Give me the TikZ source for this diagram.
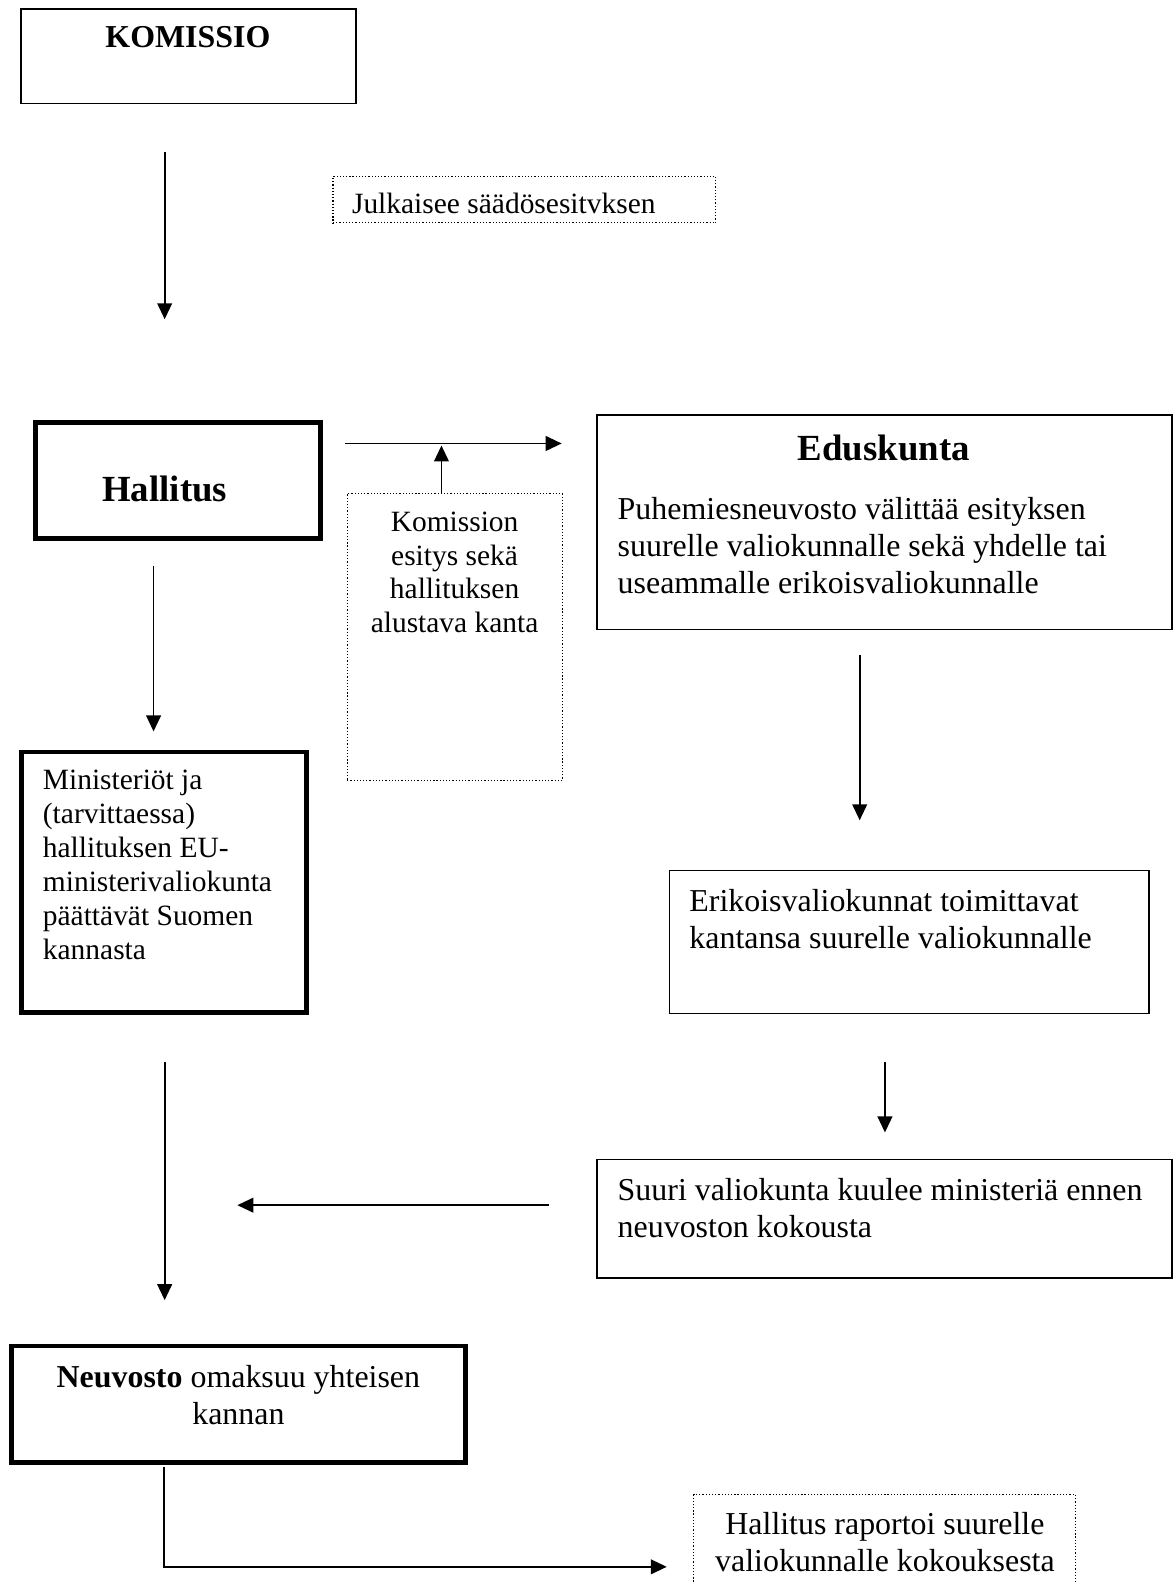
\documentclass[tikz,border=0pt]{standalone}
\usepackage{fontspec}
\setmainfont{Liberation Serif}
\usetikzlibrary{arrows.meta}

\newcommand{\pxu}{0.4115pt}

\begin{document}
\begin{tikzpicture}[x=0.4115pt, y=-0.4115pt,
  thinbox/.style={draw, line width=0.6pt, anchor=north west, inner sep=0pt},
  thickbox/.style={draw, line width=2pt, anchor=north west, inner sep=0pt},
  dotbox/.style={draw, line width=0.5pt, dash pattern=on 0.5pt off 0.8pt, anchor=north west, inner sep=0pt},
  txt/.style={inner sep=0pt, font=\fontsize{12}{13.8}\selectfont},
  bigtxt/.style={inner sep=0pt, font=\fontsize{13}{15}\selectfont},
  headtxt/.style={inner sep=0pt, font=\fontsize{15}{17}\selectfont\bfseries},
  flow/.style={line width=0.7pt, -{Triangle[length=6.5pt,width=6pt]}}]
\useasboundingbox (0,0) rectangle (1163,1568);

% boxes
\node[thinbox, minimum width=331.5*\pxu, minimum height=93.5*\pxu] (komissio) at (20,8) {};
\node[dotbox, minimum width=379*\pxu, minimum height=46*\pxu] (julkaisee) at (329,174) {};
\node[thickbox, minimum width=282*\pxu, minimum height=115*\pxu] (hallitus) at (33,416) {};
\node[dotbox, minimum width=213*\pxu, minimum height=284*\pxu] (esitys) at (343,488) {};
\node[thinbox, minimum width=569.5*\pxu, minimum height=212.5*\pxu] (eduskunta) at (590,410) {};
\node[thickbox, minimum width=282*\pxu, minimum height=258*\pxu] (ministeriot) at (19,742) {};
\node[thinbox, minimum width=474.5*\pxu, minimum height=141.5*\pxu] (erikois) at (662,861) {};
\node[thinbox, minimum width=569.5*\pxu, minimum height=117.5*\pxu] (suuri) at (590,1147) {};
\node[thickbox, minimum width=449*\pxu, minimum height=115*\pxu] (neuvosto) at (9,1330) {};
\node[dotbox, minimum width=378*\pxu, minimum height=110*\pxu] (raportoi) at (686,1479) {};

% texts
\node[bigtxt] (komissioTxt) at (186,37) {\textbf{KOMISSIO}};
\node[txt, anchor=base west] (julkaiseeTxt) at (348,211) {Julkaisee säädösesitvksen};
\node[headtxt] (hallitusTxt) at (163,484) {Hallitus};
\node[txt, align=center, anchor=north] (esitysTxt) at (450,506) {Komission\\esitys sekä\\hallituksen\\alustava kanta};
\node[headtxt] (eduskuntaTxt) at (875,443) {Eduskunta};
\node[bigtxt, align=left, anchor=north west] (puhemiesTxt) at (611,492) {Puhemiesneuvosto välittää esityksen\\suurelle valiokunnalle sekä yhdelle tai\\useammalle erikoisvaliokunnalle};
\node[txt, align=left, anchor=north west] (ministeriotTxt) at (42,762) {Ministeriöt ja\\(tarvittaessa)\\hallituksen EU-\\ministerivaliokunta\\päättävät Suomen\\kannasta};
\node[bigtxt, align=left, anchor=north west] (erikoisTxt) at (682,880) {Erikoisvaliokunnat toimittavat\\kantansa suurelle valiokunnalle};
\node[bigtxt, align=left, anchor=north west] (suuriTxt) at (611,1166) {Suuri valiokunta kuulee ministeriä ennen\\neuvoston kokousta};
\node[bigtxt, align=center, anchor=north] (neuvostoTxt) at (236,1351) {\textbf{Neuvosto} omaksuu yhteisen\\kannan};
\node[bigtxt, align=center, anchor=north] (raportoiTxt) at (876,1497) {Hallitus raportoi suurelle\\valiokunnalle kokouksesta};

% arrow ends
\coordinate (komOut) at (163,150);
\coordinate (halIn) at (163,316);
\coordinate (halRight) at (342,439);
\coordinate (eduIn) at (556,439);
\coordinate (esitysUp) at (437,488);
\coordinate (esitysTip) at (437,441);
\coordinate (halDown) at (152,560);
\coordinate (minIn) at (152,724);
\coordinate (eduDown) at (851,648);
\coordinate (erikIn) at (851,812);
\coordinate (erikDown) at (876,1051);
\coordinate (suuriIn) at (876,1121);
\coordinate (suuriLeft) at (543,1193);
\coordinate (halBack) at (235,1193);
\coordinate (minDown) at (163,1051);
\coordinate (neuvIn) at (163,1287);
\coordinate (neuvOut) at (162,1452);
\coordinate (rapIn) at (660,1551);

\draw[flow] (komOut) -- (halIn);
\draw[flow] (halRight) -- (eduIn);
\draw[flow] (esitysUp) -- (esitysTip);
\draw[flow] (halDown) -- (minIn);
\draw[flow] (eduDown) -- (erikIn);
\draw[flow] (erikDown) -- (suuriIn);
\draw[flow] (suuriLeft) -- (halBack);
\draw[flow] (minDown) -- (neuvIn);
\draw[flow] (neuvOut) |- (rapIn);
\end{tikzpicture}
\end{document}
